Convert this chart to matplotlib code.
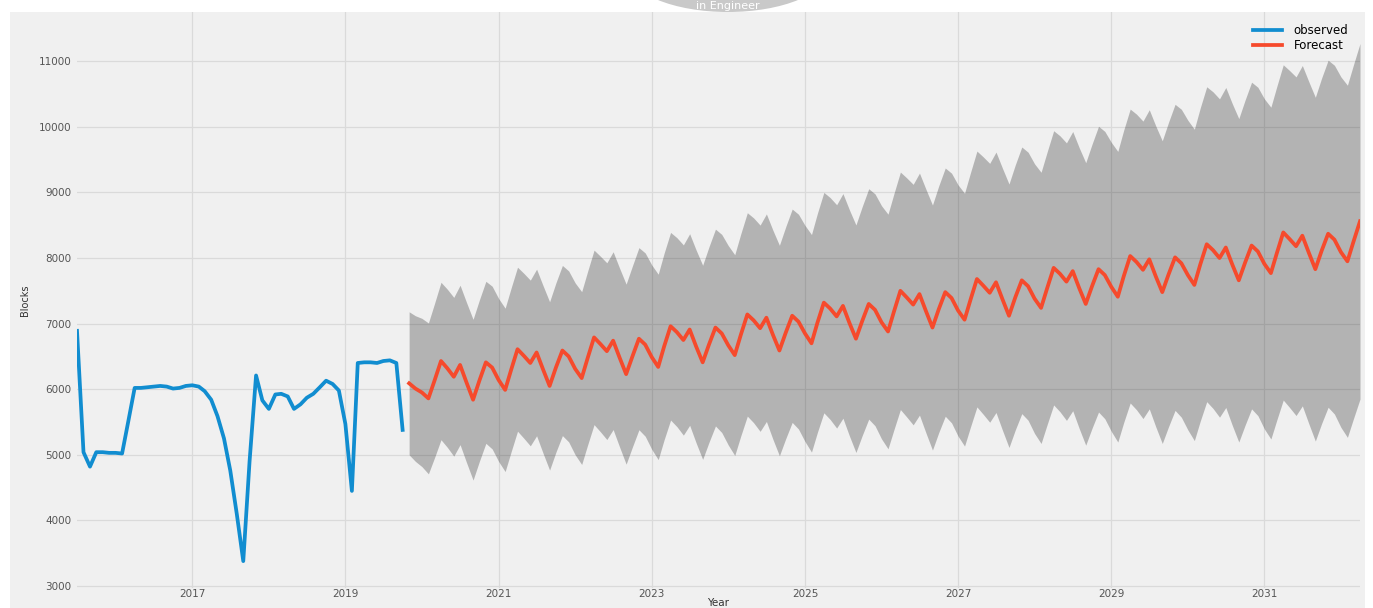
import matplotlib
matplotlib.use("Agg")
import matplotlib.pyplot as plt
import matplotlib.patches as mpatches
import pandas as pd

# observed monthly blocks, Jul 2015 - Oct 2019
observed = [6890, 5040, 4820, 5040, 5040, 5030, 5030, 5020, 5500,
            6020, 6020, 6030, 6040, 6050, 6040, 6010, 6020, 6050, 6060,
            6040, 5970, 5840, 5590, 5250, 4760, 4100, 3380, 4900, 6210,
            5830, 5700, 5920, 5930, 5890, 5700, 5770, 5870, 5930, 6030,
            6130, 6080, 5980, 5470, 4450, 6400, 6410, 6410, 6400, 6430,
            6440, 6400, 5380]

# forecast mean, Nov 2019 - Apr 2032
forecast = [6090, 6010,
            5950, 5860, 6130, 6430, 6320, 6190, 6370, 6100, 5840, 6130, 6410, 6330,
            6140, 5990, 6290, 6610, 6510, 6400, 6560, 6300, 6050, 6330, 6590, 6500,
            6310, 6170, 6470, 6790, 6690, 6580, 6740, 6480, 6230, 6500, 6770, 6680,
            6490, 6340, 6650, 6960, 6870, 6750, 6910, 6650, 6410, 6680, 6940, 6850,
            6670, 6520, 6830, 7140, 7050, 6930, 7090, 6830, 6590, 6860, 7120, 7030,
            6850, 6700, 7010, 7320, 7230, 7110, 7270, 7010, 6770, 7040, 7300, 7210,
            7020, 6880, 7180, 7500, 7400, 7290, 7450, 7190, 6940, 7220, 7480, 7390,
            7200, 7060, 7360, 7680, 7580, 7470, 7630, 7370, 7120, 7400, 7660, 7570,
            7380, 7240, 7540, 7850, 7760, 7640, 7800, 7540, 7300, 7570, 7830, 7740,
            7560, 7410, 7720, 8030, 7940, 7820, 7980, 7720, 7480, 7750, 8010, 7920,
            7740, 7590, 7900, 8210, 8120, 8000, 8160, 7900, 7660, 7930, 8190, 8100,
            7910, 7770, 8070, 8390, 8290, 8180, 8340, 8080, 7830, 8110, 8370, 8280,
            8090, 7950, 8250, 8560]

# half width of the confidence band, same months
ci_half = [1090, 1110,
           1130, 1150, 1175, 1200, 1205, 1210, 1215, 1220, 1225, 1230, 1235, 1240,
           1242, 1245, 1248, 1250, 1257, 1263, 1270, 1277, 1283, 1290, 1297, 1303,
           1310, 1317, 1323, 1330, 1338, 1347, 1355, 1363, 1372, 1380, 1388, 1397,
           1405, 1413, 1422, 1430, 1440, 1450, 1460, 1470, 1480, 1490, 1500, 1510,
           1520, 1530, 1540, 1550, 1561, 1572, 1582, 1593, 1604, 1615, 1626, 1637,
           1647, 1658, 1669, 1680, 1691, 1702, 1712, 1723, 1734, 1745, 1756, 1767,
           1777, 1788, 1799, 1810, 1822, 1833, 1845, 1857, 1868, 1880, 1892, 1903,
           1915, 1927, 1938, 1950, 1962, 1973, 1985, 1997, 2008, 2020, 2032, 2043,
           2055, 2067, 2078, 2090, 2103, 2115, 2128, 2140, 2153, 2165, 2178, 2190,
           2203, 2215, 2228, 2240, 2253, 2267, 2280, 2293, 2307, 2320, 2333, 2347,
           2360, 2373, 2387, 2400, 2413, 2426, 2439, 2452, 2465, 2478, 2490, 2503,
           2516, 2529, 2542, 2555, 2568, 2581, 2594, 2607, 2620, 2633, 2645, 2658,
           2671, 2684, 2697, 2710]

tick_years = [2017, 2019, 2021, 2023, 2025, 2027, 2029, 2031]
y_ticks = [3000, 4000, 5000, 6000, 7000, 8000, 9000, 10000, 11000]

obs_dates = pd.date_range("2015-07-01", periods=len(observed), freq="MS")
fc_dates = pd.date_range("2019-11-01", periods=len(forecast), freq="MS")
fc = pd.Series(forecast, index=fc_dates)
half = pd.Series(ci_half, index=fc_dates)
lower = fc - half
upper = fc + half

bg = "#f0f0f0"
fig = plt.figure(figsize=(13.73, 6.08), dpi=100, facecolor="white")
fig.patches.append(mpatches.Rectangle((10 / 1373, 0), 1355 / 1373, 596 / 608,
                                      transform=fig.transFigure, facecolor=bg,
                                      edgecolor="none", zorder=-10))
# watermark stamp at the top of the scan
fig.patches.append(mpatches.Ellipse((728 / 1373, 638 / 608), 200 / 1373, 84 / 608,
                                    transform=fig.transFigure, facecolor="#c9c9c9",
                                    edgecolor="none", zorder=-5))
fig.text(728 / 1373, 602 / 608, "in Engineer", ha="center", va="center",
         fontsize=8, color="white")

ax = fig.add_axes([77 / 1373, 20 / 608, 1283 / 1373, 576 / 608])
ax.set_facecolor(bg)
for s in ax.spines.values():
    s.set_visible(False)
ax.set_axisbelow(True)
ax.grid(True, color="#dadada", linewidth=0.9)

ax.plot(obs_dates, observed, color="#118dd0", linewidth=2.7, label="observed",
        zorder=3, solid_joinstyle="round")
ax.plot(fc_dates, forecast, color="#f64a2c", linewidth=2.7, label="Forecast",
        zorder=3, solid_joinstyle="round")
ax.fill_between(fc_dates, lower, upper, color="k", alpha=0.25, linewidth=0, zorder=1)

ax.set_xlim(obs_dates[0], fc_dates[-1])
ax.set_ylim(2970, 11750)
ax.set_xticks([pd.Timestamp(f"{y}-01-01") for y in tick_years])
ax.set_xticklabels([str(y) for y in tick_years])
ax.set_yticks(y_ticks)
ax.set_yticklabels([str(v) for v in y_ticks])
ax.tick_params(length=0, labelsize=7.5, colors="#555555")
ax.tick_params(axis="x", pad=1)
ax.tick_params(axis="y", pad=4)

ax.set_ylabel("Blocks", fontsize=7, color="#333333", labelpad=6)
ax.set_xlabel("Year", fontsize=7.5, color="#333333", labelpad=-1)

ax.legend(loc="upper right", fontsize=8.5, frameon=False, handlelength=2.4,
          handletextpad=1.0, borderaxespad=0.6, labelspacing=0.2)

fig.savefig("out.png", dpi=100, facecolor=fig.get_facecolor())
